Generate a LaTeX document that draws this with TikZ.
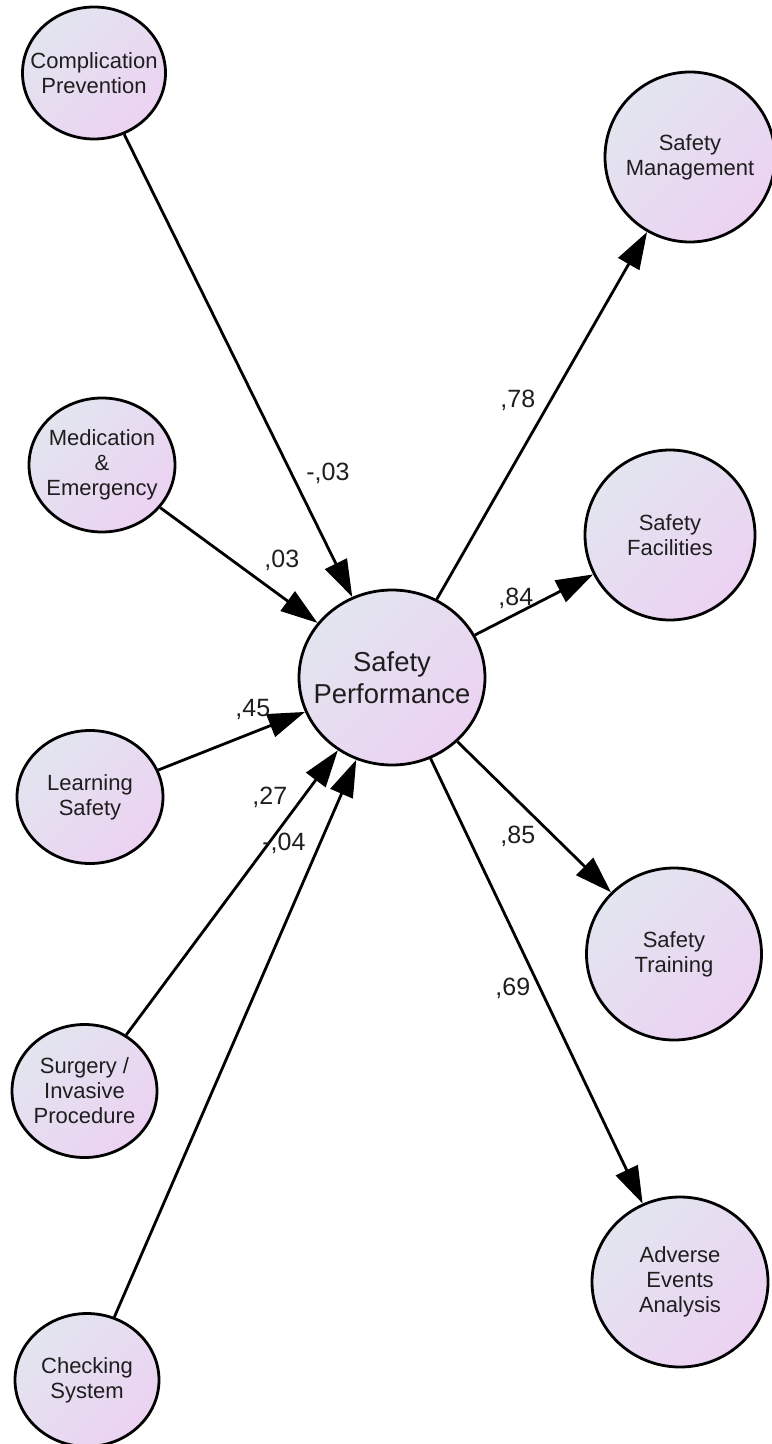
\documentclass[tikz,border=0pt]{standalone}
\usepackage{fontspec}
\setmainfont{Liberation Sans}
\usetikzlibrary{shapes.geometric,arrows.meta}
\definecolor{fillA}{RGB}{226,229,239}
\definecolor{fillB}{RGB}{236,210,242}
\definecolor{inkc}{RGB}{30,30,30}
\begin{document}
\begin{tikzpicture}[x=0.5pt,y=-0.5pt,
  latent/.style={ellipse, draw=black, line width=1.4pt, inner sep=0pt,
    top color=fillA, bottom color=fillB, shading angle=45},
  smalltxt/.style={align=center, inner sep=0pt, text=inkc, font=\fontsize{11}{12.5}\selectfont},
  bigtxt/.style={align=center, inner sep=0pt, text=inkc, font=\fontsize{13.7}{16}\selectfont},
  path/.style={draw=black, line width=1.4pt, -{Triangle[length=18.5pt,width=12pt]}},
  coef/.style={anchor=base west, inner sep=0pt, text=inkc, font=\fontsize{12.5}{14}\selectfont}
]
\useasboundingbox (0,0) rectangle (771,1444);

% central latent variable
\node[latent, minimum width=93pt, minimum height=87.5pt,
  label={[bigtxt]center:Safety\\Performance}] (sp) at (392,677.5) {};

% predictors on the left
\node[latent, minimum width=71.5pt, minimum height=66pt,
  label={[smalltxt]center:Complication\\Prevention}] (cp) at (94,73) {};
\node[latent, minimum width=73pt, minimum height=67pt,
  label={[smalltxt]center:Medication\\\&\\Emergency}] (me) at (102,465) {};
\node[latent, minimum width=73pt, minimum height=66.5pt,
  label={[smalltxt]center:Learning\\Safety}] (ls) at (90,797) {};
\node[latent, minimum width=72.5pt, minimum height=66.5pt,
  label={[smalltxt]center:Surgery /\\Invasive\\Procedure}] (si) at (84.5,1091) {};
\node[latent, minimum width=72pt, minimum height=66.5pt,
  label={[smalltxt]center:Checking\\System}] (cs) at (87,1380) {};

% indicators on the right
\node[latent, minimum width=85pt, minimum height=85pt,
  label={[smalltxt]center:Safety\\Management}] (sm) at (690,157) {};
\node[latent, minimum width=85pt, minimum height=85pt,
  label={[smalltxt]center:Safety\\Facilities}] (sf) at (670,535) {};
\node[latent, minimum width=87.5pt, minimum height=86pt,
  label={[smalltxt]center:Safety\\Training}] (st) at (674,954) {};
\node[latent, minimum width=88pt, minimum height=85pt,
  label={[smalltxt]center:Adverse\\Events\\Analysis}] (ae) at (680,1282) {};

% paths
\draw[path] (cp) -- (sp);
\draw[path] (me) -- (sp);
\draw[path] (ls) -- (sp);
\draw[path] (si) -- (sp);
\draw[path] (cs) -- (sp);
\draw[path] (sp) -- (sm);
\draw[path] (sp) -- (sf);
\draw[path] (sp) -- (st);
\draw[path] (sp) -- (ae);

% path coefficients
\node[coef] (c1) at (306,480) {-,03};
\node[coef] (c2) at (264,567) {,03};
\node[coef] (c3) at (235,716) {,45};
\node[coef] (c4) at (252,804) {,27};
\node[coef] (c5) at (262,850) {-,04};
\node[coef] (c6) at (500,408) {,78};
\node[coef] (c7) at (498,605) {,84};
\node[coef] (c8) at (500,843) {,85};
\node[coef] (c9) at (495,995) {,69};
\end{tikzpicture}
\end{document}
